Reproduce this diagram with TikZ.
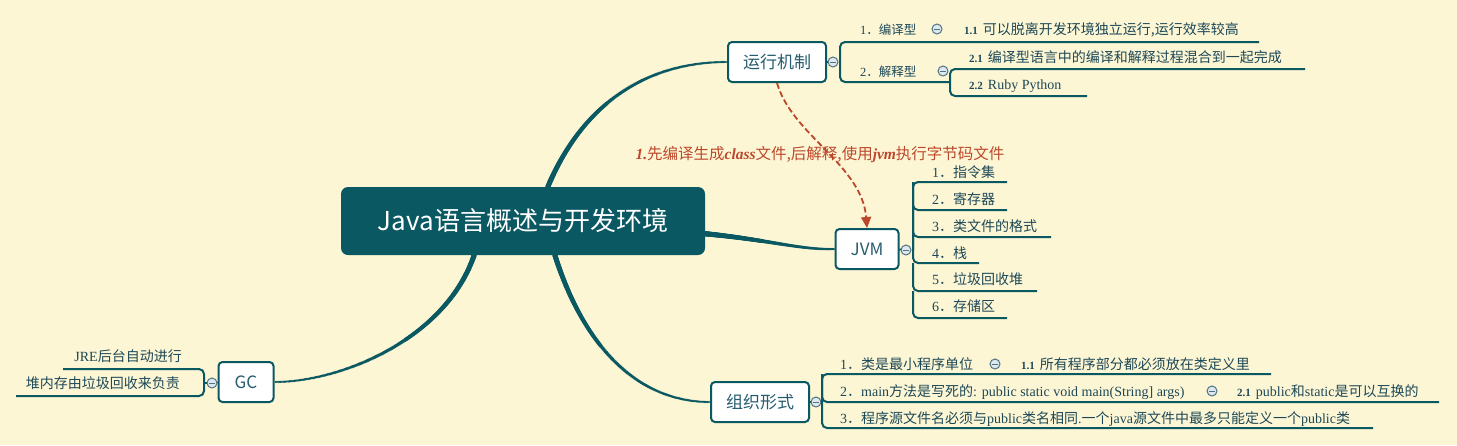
\documentclass[tikz,border=0pt]{standalone}
\usepackage{fontspec}
\setmainfont{Noto Sans CJK SC}
\newfontfamily\enserif{Liberation Serif}
\usetikzlibrary{arrows.meta,decorations.markings}

\definecolor{paper}{RGB}{253,246,212}
\definecolor{mapteal}{RGB}{10,88,98}
\definecolor{topictext}{RGB}{38,92,112}
\definecolor{leaftext}{RGB}{28,72,88}
\definecolor{notered}{RGB}{188,72,44}
\definecolor{foldfill}{RGB}{222,232,238}
\definecolor{foldline}{RGB}{80,115,130}

\newcommand{\en}[1]{{\enserif #1}}
\newcommand{\subno}[1]{{\enserif\bfseries\fontsize{11}{12}\selectfont #1}\hspace{5pt}}
\newcommand{\noteit}[1]{{\enserif\bfseries\itshape #1}}

\tikzset{
  rootbox/.style={fill=mapteal, rounded corners=7pt, text=white, minimum width=364pt,
    minimum height=68pt, font=\fontsize{26}{30}\selectfont},
  topic/.style={draw=mapteal, line width=2pt, fill=white, rounded corners=4pt,
    text=topictext, minimum height=40pt, font=\fontsize{17}{20}\selectfont},
  leaf/.style={anchor=base west, inner sep=0pt, text=leaftext, font=\fontsize{14}{16}\selectfont},
  branch/.style={draw=mapteal, line width=2pt, rounded corners=5pt},
  fold/.style={circle, draw=foldline, fill=foldfill, line width=1pt, minimum size=10pt, inner sep=0pt,
    path picture={\draw[foldline, line width=1pt]
      ([xshift=-2.8pt]path picture bounding box.center) -- ([xshift=2.8pt]path picture bounding box.center);}},
  trunk/.style={decorate, decoration={markings, mark=between positions 0 and 1 step 0.005 with
    {\fill[mapteal] (0,0) circle ({2.7pt-1.6pt*\pgfkeysvalueof{/pgf/decoration/mark info/sequence number}/201});}}},
  note/.style={draw=notered, line width=1.8pt, dash pattern=on 6pt off 3pt},
}

\begin{document}
\begin{tikzpicture}[x=1pt, y=-1pt]
  \useasboundingbox (0,0) rectangle (1457,445);
  \fill[paper] (0,0) rectangle (1457,445);

  \node[rootbox] (root) at (523,221) {Java语言概述与开发环境};
  \node[topic, minimum width=98pt] (run) at (777,62) {运行机制};
  \node[topic, minimum width=63pt] (jvm) at (867,249) {JVM};
  \node[topic, minimum width=98pt] (org) at (760,402) {组织形式};
  \node[topic, minimum width=55pt] (gc) at (246,382) {GC};

  % main branches
  \path[trunk] (root.54) .. controls (580,110) and (640,62) .. (run.west);
  \path[trunk] (root.-4) .. controls (770,240) and (800,250) .. (jvm.west);
  \path[trunk] (root.-47) .. controls (585,350) and (640,402) .. (org.west);
  \path[trunk] (root.-145) .. controls (445,340) and (340,382) .. (gc.east);

  % 运行机制
  \node[fold] (runf) at (833,62) {};
  \coordinate (runb) at (840,62);
  \coordinate (re1) at (1259,42);
  \coordinate (re2) at (950,82);
  \coordinate (re21) at (1305,69);
  \coordinate (re22) at (1087,96);
  \draw[branch] (run.east) -- (runf.west);
  \draw[branch] (runf.east) -- (runb);
  \draw[branch] (re1) -- (re1 -| runb) -- (re2 -| runb) -- (re2);
  \draw[branch] (re21) -- (re21 -| re2) -- (re22 -| re2) -- (re22);
  \node[leaf, font=\fontsize{12.5}{15}\selectfont] (r1) at (860,34) {\en{1}．编译型};
  \node[fold] (r1f) at (937,29) {};
  \node[leaf] (r11) at (964,34) {\subno{1.1}可以脱离开发环境独立运行,运行效率较高};
  \node[leaf, font=\fontsize{12.5}{15}\selectfont] (r2) at (860,76) {\en{2}．解释型};
  \node[fold] (r2f) at (943,71) {};
  \node[leaf] (r21) at (969,62) {\subno{2.1}编译型语言中的编译和解释过程混合到一起完成};
  \node[leaf] (r22) at (969,89) {\subno{2.2}\en{Ruby Python}};

  % JVM
  \node[fold] (jvmf) at (906,250) {};
  \coordinate (jvmb) at (913,250);
  \coordinate (je1) at (1007,182);
  \coordinate (je2) at (1007,210);
  \coordinate (je3) at (1051,237);
  \coordinate (je4) at (979,263);
  \coordinate (je5) at (1037,291);
  \coordinate (je6) at (1007,318);
  \draw[branch] (jvm.east) -- (jvmf.west);
  \draw[branch] (jvmf.east) -- (jvmb);
  \draw[branch] (je1) -- (je1 -| jvmb) -- (jvmb);
  \foreach \k [remember=\k as \p (initially 1)] in {2,...,6}
    \draw[branch] (jvmb |- je\p) -- (jvmb |- je\k) -- (je\k);
  \node[leaf] (j1) at (932,177) {\en{1}．指令集};
  \node[leaf] (j2) at (932,204) {\en{2}．寄存器};
  \node[leaf] (j3) at (932,231) {\en{3}．类文件的格式};
  \node[leaf] (j4) at (932,258) {\en{4}．栈};
  \node[leaf] (j5) at (932,284) {\en{5}．垃圾回收堆};
  \node[leaf] (j6) at (932,311) {\en{6}．存储区};

  % 组织形式
  \node[fold] (orgf) at (816,402) {};
  \coordinate (orgb) at (822,402);
  \coordinate (oe1) at (1271,374);
  \coordinate (oe2) at (1439,402);
  \coordinate (oe3) at (1373,428);
  \draw[branch] (org.east) -- (orgf.west);
  \draw[branch] (orgf.east) -- (orgb);
  \draw[branch] (oe1) -- (oe1 -| orgb) -- (oe3 -| orgb) -- (oe3);
  \draw[branch] (oe1 -| orgb) -- (oe2 -| orgb) -- (oe2);
  \node[leaf] (o1) at (840,369) {\en{1}．类是最小程序单位};
  \node[fold] (o1f) at (995,364) {};
  \node[leaf] (o11) at (1021,369) {\subno{1.1}所有程序部分都必须放在类定义里};
  \node[leaf] (o2) at (840,396) {\en{2}．\en{main}方法是写死的\en{: public static void main(String] args)}};
  \node[fold] (o2f) at (1212,391) {};
  \node[leaf] (o21) at (1237,396) {\subno{2.1}\en{public}和\en{static}是可以互换的};
  \node[leaf] (o3) at (840,423) {\en{3}．程序源文件名必须与\en{public}类名相同\en{.}一个\en{java}源文件中最多只能定义一个\en{public}类};

  % GC
  \node[fold] (gcf) at (212,383) {};
  \coordinate (gcb) at (204,383);
  \coordinate (ge1) at (63,369);
  \coordinate (ge2) at (16,396);
  \draw[branch] (gcf.east) -- (gc.west);
  \draw[branch] (gcf.west) -- (gcb);
  \draw[branch] (ge1) -- (ge1 -| gcb) -- (ge2 -| gcb) -- (ge2);
  \node[leaf, anchor=base east] (g1) at (182,361) {\en{JRE}后台自动进行};
  \node[leaf, anchor=base east] (g2) at (180,388) {堆内存由垃圾回收来负责};

  % class -> jvm
  \draw[note, -{Triangle[length=11pt, width=10pt]}] (run.south) .. controls (792,135) and (862,165) .. (jvm.north);
  \node[text=notered, font=\fontsize{15.5}{18}\selectfont] (notetext) at (820,155)
    {\noteit{1.}先编译生成\noteit{class}文件,后解释,使用\noteit{jvm}执行字节码文件};
\end{tikzpicture}
\end{document}
